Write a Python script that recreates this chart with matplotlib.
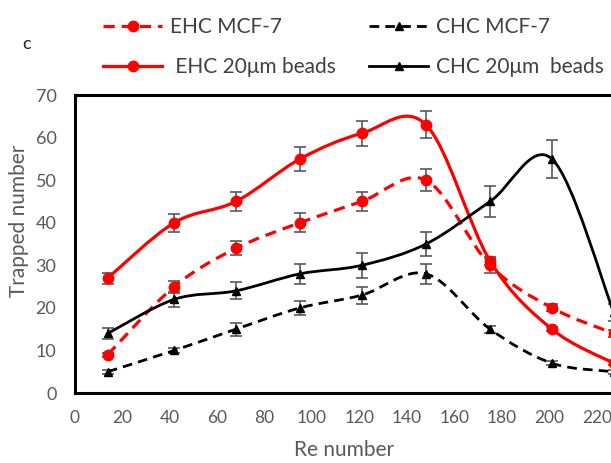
import matplotlib
matplotlib.use("Agg")
import matplotlib.pyplot as plt
import numpy as np
from matplotlib.path import Path
from matplotlib.patches import PathPatch
from matplotlib.lines import Line2D

plt.rcParams['font.family'] = ['Lato', 'DejaVu Sans']

# ---- data ----
re_number = [14, 42, 68, 95, 121, 148, 175, 201, 227]
ehc_mcf7 = [9, 25, 34, 40, 45, 50, 30, 20, 14]
ehc_mcf7_err = [0.5, 1.4, 1.6, 2.2, 2.3, 2.6, 1.8, 0.8, 0.8]
chc_mcf7 = [5, 10, 15, 20, 23, 28, 15, 7, 5]
chc_mcf7_err = [0.5, 0.5, 1.5, 1.6, 2.0, 2.3, 0.8, 0.5, 0.5]
ehc_beads = [27, 40, 45, 55, 61, 63, 31, 15, 7]
ehc_beads_err = [1.3, 2.1, 2.3, 2.8, 3.0, 3.2, 1.0, 0.5, 0.5]
chc_beads = [14, 22, 24, 28, 30, 35, 45, 55, 19]
chc_beads_err = [1.3, 1.7, 2.0, 2.3, 2.9, 2.9, 3.7, 4.4, 2.0]

labels = ["EHC MCF-7", "CHC MCF-7", " EHC 20\u03bcm beads", "CHC 20\u03bcm  beads"]
xticks = [0, 20, 40, 60, 80, 100, 120, 140, 160, 180, 200, 220]
yticks = [0, 10, 20, 30, 40, 50, 60, 70]

RED = '#FF0000'
BLACK = '#000000'
GRAY = '#595959'

fig = plt.figure(figsize=(6.11, 4.63), dpi=100)
ax = fig.add_axes([74.5/611, 1-393/463, 570/611, 298/463])
ax.set_xlim(0, 240)
ax.set_ylim(0, 70)


def smooth_path(x, y):
    x = np.asarray(x, float)
    y = np.asarray(y, float)
    pts = np.column_stack([x, y])
    n = len(pts)
    verts = [pts[0]]
    codes = [Path.MOVETO]
    for i in range(n - 1):
        p0 = pts[i - 1] if i > 0 else pts[i]
        p1 = pts[i]
        p2 = pts[i + 1]
        p3 = pts[i + 2] if i + 2 < n else pts[i + 1]
        c1 = p1 + (p2 - p0) / 6.0
        c2 = p2 - (p3 - p1) / 6.0
        verts += [c1, c2, p2]
        codes += [Path.CURVE4] * 3
    return Path(verts, codes)


series = [
    (ehc_mcf7, ehc_mcf7_err, RED, (0, (3.5, 2.2)), 'o', 7.5, 2.3),
    (chc_mcf7, chc_mcf7_err, BLACK, (0, (3.5, 2.2)), '^', 5.5, 2.0),
    (ehc_beads, ehc_beads_err, RED, '-', 'o', 7.5, 2.3),
    (chc_beads, chc_beads_err, BLACK, '-', '^', 5.5, 2.0),
]

handles = []
for (yv, err, col, ls, mk, ms, lw), lab in zip(series, labels):
    patch = PathPatch(smooth_path(re_number, yv), facecolor='none', edgecolor=col,
                      linestyle=ls, linewidth=lw, zorder=3)
    ax.add_patch(patch)
    ax.errorbar(re_number, yv, yerr=err, fmt='none', ecolor=GRAY, elinewidth=1.2,
                capsize=4, capthick=1.2, zorder=2)
    ax.plot(re_number, yv, linestyle='none', marker=mk, markersize=ms,
            color=col, zorder=4)
    handles.append(Line2D([], [], color=col, linestyle=ls, linewidth=lw,
                          marker=mk, markersize=ms))

ax.set_xticks(xticks)
ax.set_yticks(yticks)
ax.tick_params(axis='x', length=0, labelsize=12.5, labelcolor=GRAY, pad=12)
ax.tick_params(axis='y', length=0, labelsize=13, labelcolor=GRAY, pad=13)
for s in ax.spines.values():
    s.set_linewidth(2.2)
    s.set_color(BLACK)

ax.set_xlabel("Re number", fontsize=15, color=GRAY)
ax.xaxis.label.set_va('center')
ax.xaxis.set_label_coords((344 - 74.5) / 570, (393 - 450) / 298)
ax.set_ylabel("Trapped number", fontsize=15, color=GRAY)
ax.yaxis.label.set_va('center')
ax.yaxis.set_label_coords((19 - 74.5) / 570, (393 - 221) / 298)

order = [0, 2, 1, 3]
leg = fig.legend([handles[i] for i in order], [labels[i] for i in order],
                 ncol=2, frameon=False, loc='center left',
                 bbox_to_anchor=(103/611, 1-47/463),
                 fontsize=15, handlelength=2.85, handletextpad=0.35,
                 columnspacing=1.6, labelspacing=0.95, borderpad=0,
                 borderaxespad=0)
for t in leg.get_texts():
    t.set_color('#404040')

fig.text(27/611, 1-44/463, "c", fontsize=13, color='#202020', ha='center', va='center')

fig.savefig("out.png", dpi=100)
